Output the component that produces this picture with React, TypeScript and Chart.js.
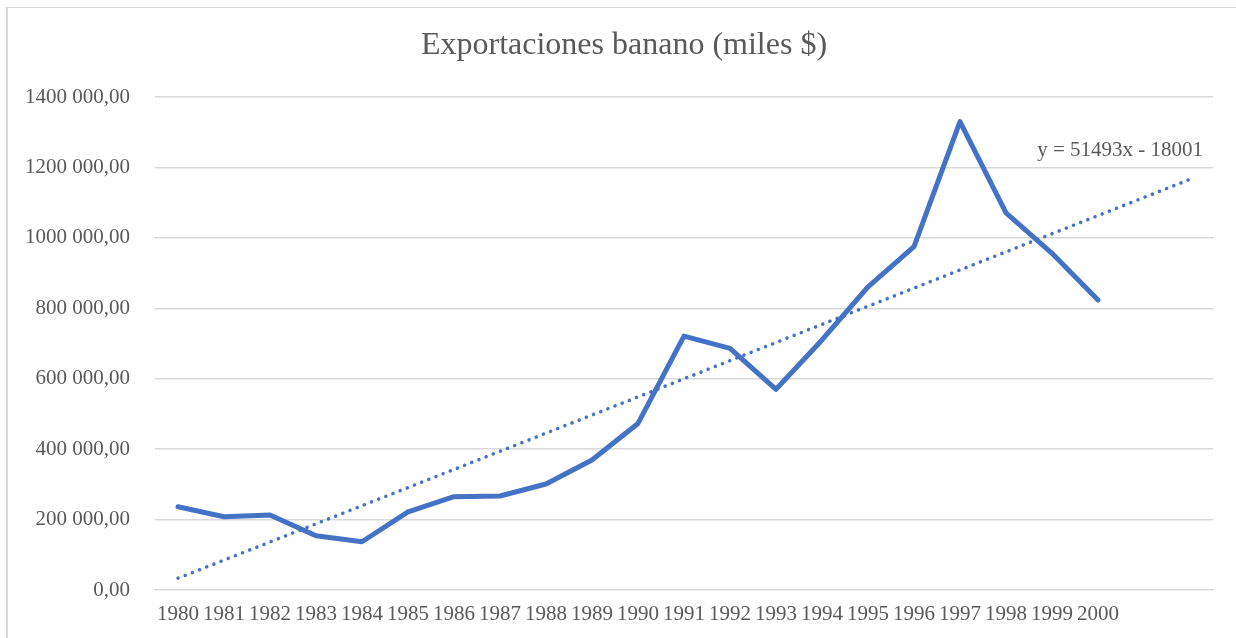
import React, { useEffect, useRef } from "react";
import { Chart, registerables } from "chart.js";

Chart.register(...registerables);

const years = [
  "1980", "1981", "1982", "1983", "1984", "1985", "1986", "1987", "1988", "1989", "1990",
  "1991", "1992", "1993", "1994", "1995", "1996", "1997", "1998", "1999", "2000",
];
const extraSlots = ["", ""];
const categoryLabels = [...years, ...extraSlots];

const exportValues = [
  236500, 208000, 213000, 154000, 137000, 222000, 265000, 267000, 301000, 369000, 473000,
  721000, 686000, 570000, 710000, 861000, 975000, 1330000, 1071000, 956000, 823500,
];

const trendSlope = 51493;
const trendIntercept = -18001;
const trendLabel = "y = 51493x - 18001";
const chartTitle = "Exportaciones banano (miles $)";

const yMin = 0;
const yMax = 1400000;
const yStep = 200000;

const TEXT = "#595959";
const BLUE = "#4472C4";
const GRID = "#d9d9d9";
const SERIF = '"Liberation Serif", "Times New Roman", serif';

function formatTick(v: number): string {
  if (v === 0) return "0,00";
  const thousands = Math.floor(v / 1000);
  const rest = String(v % 1000).padStart(3, "0");
  return `${thousands} ${rest},00`;
}

export default function App() {
  const ref = useRef<HTMLCanvasElement | null>(null);

  useEffect(() => {
    if (!ref.current) return;
    const n = categoryLabels.length;
    const trendData: (number | null)[] = categoryLabels.map(() => null);
    trendData[0] = trendSlope * 1 + trendIntercept;
    trendData[n - 1] = trendSlope * n + trendIntercept;

    const overlay = {
      id: "overlay",
      afterDraw(chart: any) {
        const ctx = chart.ctx;
        ctx.save();
        ctx.fillStyle = TEXT;
        ctx.font = `32px ${SERIF}`;
        ctx.textAlign = "center";
        ctx.textBaseline = "middle";
        ctx.fillText(chartTitle, 624, 46);
        const xs = chart.scales.x;
        const ys = chart.scales.y;
        const lx = xs.getPixelForValue(n - 1) + 13;
        const ly = ys.getPixelForValue(trendData[n - 1] as number) - 29;
        ctx.font = `21px ${SERIF}`;
        ctx.textAlign = "right";
        ctx.fillText(trendLabel, lx, ly);
        ctx.restore();
      },
    };

    const chart = new Chart(ref.current, {
      type: "line",
      data: {
        labels: categoryLabels,
        datasets: [
          {
            label: "Exportaciones",
            data: exportValues,
            borderColor: BLUE,
            borderWidth: 5,
            pointRadius: 0,
            borderJoinStyle: "round",
            borderCapStyle: "round",
            tension: 0,
            fill: false,
          },
          {
            label: "Tendencia",
            data: trendData,
            borderColor: BLUE,
            borderWidth: 3.5,
            borderDash: [0.1, 7.6],
            borderCapStyle: "round",
            pointRadius: 0,
            spanGaps: true,
            fill: false,
          },
        ],
      },
      options: {
        responsive: false,
        animation: false,
        devicePixelRatio: 1,
        layout: { padding: { top: 97, right: 23, left: 0, bottom: 0 } },
        plugins: {
          legend: { display: false },
          title: { display: false },
          tooltip: { enabled: false },
        },
        scales: {
          x: {
            type: "category",
            offset: true,
            grid: { display: false, drawTicks: false },
            border: { display: false },
            ticks: {
              color: TEXT,
              font: { family: SERIF, size: 21 },
              padding: 12,
              autoSkip: false,
              maxRotation: 0,
              minRotation: 0,
            },
            afterFit(scale: any) {
              scale.height = 48;
            },
          },
          y: {
            min: yMin,
            max: yMax,
            grid: { color: GRID, lineWidth: 1.5, drawTicks: false },
            border: { display: false },
            ticks: {
              stepSize: yStep,
              color: TEXT,
              font: { family: SERIF, size: 21 },
              padding: 25,
              callback: (v: any) => formatTick(Number(v)),
            },
            afterFit(scale: any) {
              scale.width = 155;
            },
          },
        },
      },
      plugins: [overlay],
    } as any);
    return () => chart.destroy();
  }, []);

  return (
    <div style={{ position: "fixed", left: 0, top: 0, width: 1236, height: 638, background: "#fff", overflow: "hidden" }}>
      <div
        style={{
          position: "absolute",
          left: 6,
          top: 7,
          width: 1230,
          height: 631,
          borderTop: `1px solid ${GRID}`,
          borderLeft: `2px solid ${GRID}`,
          boxSizing: "border-box",
        }}
      />
      <canvas ref={ref} width={1236} height={638} style={{ position: "absolute", left: 0, top: 0 }} />
    </div>
  );
}
